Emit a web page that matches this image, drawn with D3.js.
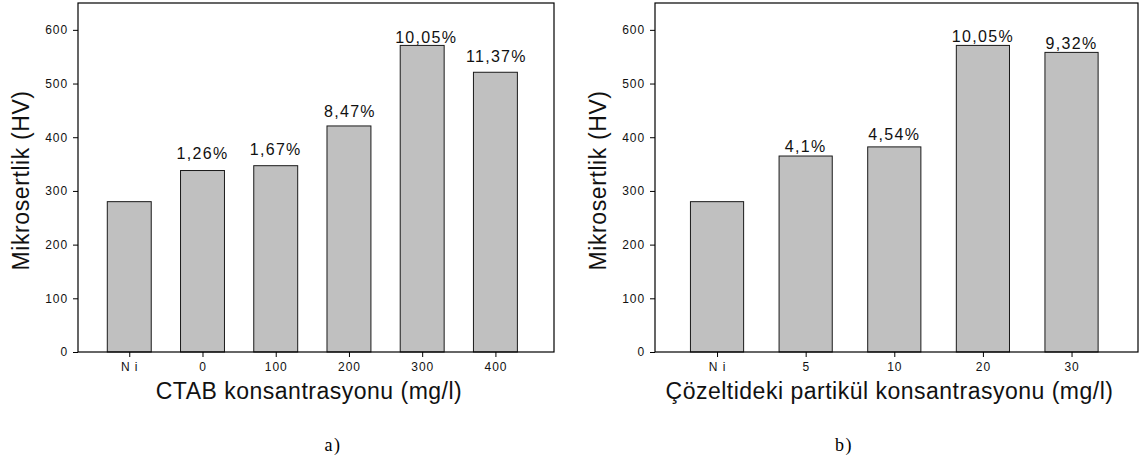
<!DOCTYPE html>
<html>
<head>
<meta charset="utf-8">
<script src="https://cdn.jsdelivr.net/npm/d3@7/dist/d3.min.js"></script>
<style>
  html, body { margin: 0; padding: 0; background: #fff; }
  svg { display: block; }
</style>
</head>
<body>
<svg id="chart" width="1139" height="463"></svg>
<script>
// ---- data ----
const categoriesA = ["N i", "0", "100", "200", "300", "400"];
const valuesA = [280, 338, 347, 421, 571, 521];
const labelsA = ["", "1,26%", "1,67%", "8,47%", "10,05%", "11,37%"];
const labelPosA = [null, 360, 367, 437, 575, 541];

const categoriesB = ["N i", "5", "10", "20", "30"];
const valuesB = [280, 365, 382, 571, 558];
const labelsB = ["", "4,1%", "4,54%", "10,05%", "9,32%"];
const labelPosB = [null, 373, 395, 578, 564];

const yTicks = [0, 100, 200, 300, 400, 500, 600];
const yTitle = "Mikrosertlik (HV)";
const xTitleA = "CTAB konsantrasyonu (mg/l)";
const xTitleB = "Çözeltideki partikül konsantrasyonu (mg/l)";
const captions = ["a)", "b)"];

const svg = d3.select("#chart");
const FONT = "'Liberation Sans', Arial, Helvetica, sans-serif";

function panel(cfg) {
  const {left, right, top, bottom, cats, vals, labels, labelPos, xDomain, xTitle, yTitleX, caption, captionX, labelShift} = cfg;
  const g = svg.append("g");
  const x = d3.scaleLinear().domain(xDomain).range([left, right]);
  const y = d3.scaleLinear().domain([0, 650]).range([bottom, top]);
  const bw = x(0.3) - x(-0.3);

  // bars
  g.selectAll("rect.bar").data(vals).enter().append("rect")
    .attr("class", "bar")
    .attr("x", (d, i) => x(i) - bw / 2)
    .attr("y", d => y(d))
    .attr("width", bw)
    .attr("height", d => y(0) - y(d))
    .attr("fill", "#c0c0c0")
    .attr("stroke", "#1a1a1a")
    .attr("stroke-width", 1);

  // frame
  g.append("rect")
    .attr("x", left).attr("y", top)
    .attr("width", right - left).attr("height", bottom - top)
    .attr("fill", "none").attr("stroke", "#000").attr("stroke-width", 1.2);

  // y axis
  const ya = g.append("g").attr("transform", `translate(${left},0)`)
    .call(d3.axisLeft(y).tickValues(yTicks).tickSize(5).tickPadding(5).tickSizeOuter(0));
  ya.select(".domain").remove();
  ya.selectAll("line").attr("stroke", "#000");
  ya.selectAll("text").attr("font-family", FONT).attr("font-size", 12)
    .attr("letter-spacing", 0.9).attr("fill", "#111");

  // x axis
  const xa = g.append("g").attr("transform", `translate(0,${bottom})`)
    .call(d3.axisBottom(x).tickValues(d3.range(cats.length)).tickFormat(i => cats[i])
      .tickSize(5).tickPadding(5).tickSizeOuter(0));
  xa.select(".domain").remove();
  xa.selectAll("line").attr("stroke", "#000");
  xa.selectAll("text").attr("font-family", FONT).attr("font-size", 12)
    .attr("letter-spacing", 0.9).attr("fill", "#111");

  // value labels
  labels.forEach((t, i) => {
    if (!t) return;
    g.append("text")
      .attr("x", x(i) + (labelShift[i] || 0))
      .attr("y", y(labelPos[i]))
      .attr("text-anchor", "middle")
      .attr("font-family", FONT)
      .attr("font-size", 16)
      .attr("letter-spacing", 1.3)
      .attr("fill", "#111")
      .text(t);
  });

  // x title
  g.append("text")
    .attr("x", (left + right) / 2 - 7)
    .attr("y", 399)
    .attr("text-anchor", "middle")
    .attr("font-family", FONT)
    .attr("font-size", 23)
    .attr("letter-spacing", 0.5)
    .attr("fill", "#111")
    .text(xTitle);

  // y title
  g.append("text")
    .attr("transform", `translate(${yTitleX},${(top + bottom) / 2 + 3}) rotate(-90)`)
    .attr("text-anchor", "middle")
    .attr("font-family", FONT)
    .attr("font-size", 23)
    .attr("letter-spacing", 0.6)
    .attr("fill", "#111")
    .text(yTitle);

  // caption
  g.append("text")
    .attr("x", captionX)
    .attr("y", 451)
    .attr("text-anchor", "middle")
    .attr("font-family", "'Liberation Serif', 'Times New Roman', serif")
    .attr("font-size", 18)
    .attr("letter-spacing", 1.5)
    .attr("fill", "#000")
    .text(caption);
}

panel({
  left: 78, right: 554, top: 3, bottom: 352,
  cats: categoriesA, vals: valuesA, labels: labelsA, labelPos: labelPosA,
  xDomain: [-0.7, 5.8], xTitle: xTitleA, yTitleX: 29,
  caption: captions[0], captionX: 333, labelShift: [0, 0, 0, 1, 4, 1]
});

panel({
  left: 655, right: 1138, top: 3, bottom: 352,
  cats: categoriesB, vals: valuesB, labels: labelsB, labelPos: labelPosB,
  xDomain: [-0.7, 4.75], xTitle: xTitleB, yTitleX: 606,
  caption: captions[1], captionX: 844, labelShift: [0, 0, 0, 0, 0]
});
</script>
</body>
</html>
